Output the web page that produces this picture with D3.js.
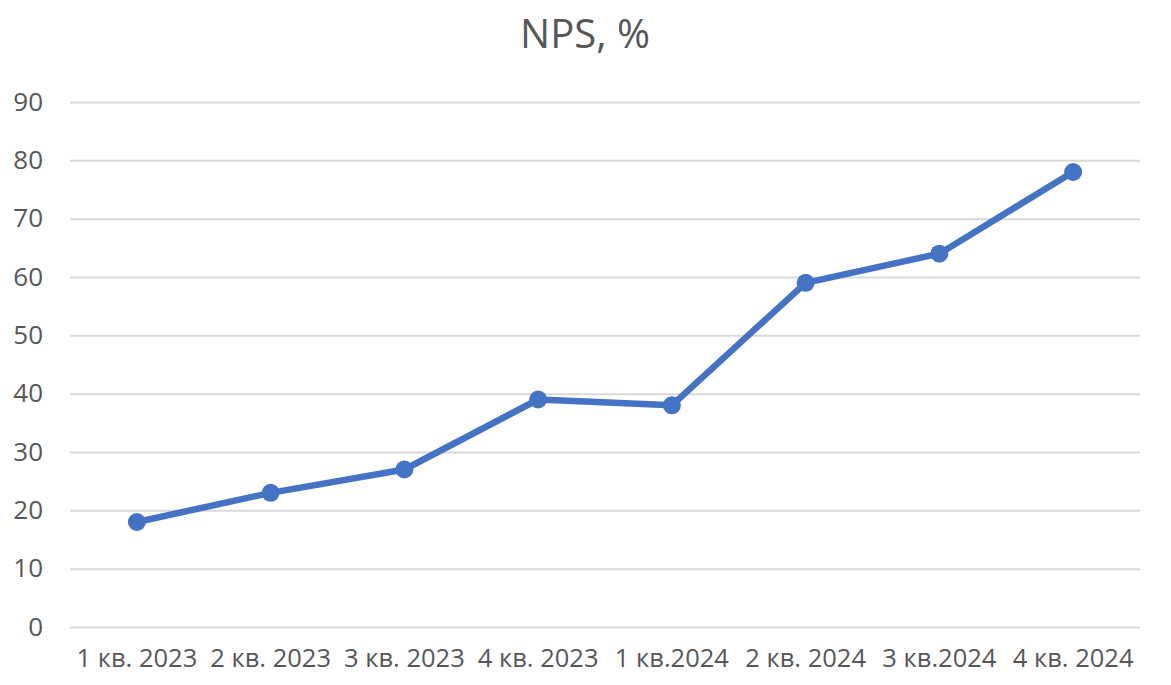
<!DOCTYPE html>
<html>
<head>
<meta charset="utf-8">
<script src="https://cdn.jsdelivr.net/npm/d3@7"></script>
<style>
    body { margin: 0; background: #fff; }
    text { font-family: "Open Sans", sans-serif; fill: #575757; }
</style>
</head>
<body>
<svg id="chart" width="1171" height="685"></svg>
<script>
// 数据
const quarters = ["1 кв. 2023", "2 кв. 2023", "3 кв. 2023", "4 кв. 2023",
                  "1 кв.2024", "2 кв. 2024", "3 кв.2024", "4 кв. 2024"];
const npsValues = [18, 23, 27, 39, 38, 59, 64, 78];
const yTicks = [0, 10, 20, 30, 40, 50, 60, 70, 80, 90];
const chartTitle = "NPS, %";

const lineColor = "#4472C4";
const gridColor = "#d9d9d9";

const margin = { top: 102, right: 31, bottom: 58, left: 70 };
const width = 1171 - margin.left - margin.right;
const height = 685 - margin.top - margin.bottom;

const svg = d3.select("#chart");

// 标题
svg.append("text")
    .attr("x", 585)
    .attr("y", 48)
    .attr("text-anchor", "middle")
    .attr("font-size", 40)
    .text(chartTitle);

const g = svg.append("g")
    .attr("transform", `translate(${margin.left},${margin.top})`);

// 比例尺
const x = d3.scaleBand()
    .domain(quarters)
    .range([0, width]);

const y = d3.scaleLinear()
    .domain([0, 90])
    .range([height, 0]);

// 网格线 + Y轴
const yAxis = g.append("g")
    .call(d3.axisLeft(y).tickValues(yTicks).tickSize(-width).tickPadding(27));
yAxis.select(".domain").remove();
yAxis.selectAll(".tick line")
    .attr("stroke", gridColor)
    .attr("stroke-width", 2);
yAxis.selectAll(".tick text")
    .attr("font-size", 26)
    .attr("fill", "#575757")
    .style("font-family", "'Open Sans', sans-serif");

// X轴
const xAxis = g.append("g")
    .attr("transform", `translate(0,${height})`)
    .call(d3.axisBottom(x).tickSize(0).tickPadding(22));
xAxis.select(".domain").remove();
xAxis.selectAll(".tick text")
    .attr("font-size", 25.5)
    .attr("fill", "#575757")
    .style("font-family", "'Open Sans', sans-serif");

// 折线
const line = d3.line()
    .x((d, i) => x(quarters[i]) + x.bandwidth() / 2)
    .y(d => y(d));

g.append("path")
    .datum(npsValues)
    .attr("fill", "none")
    .attr("stroke", lineColor)
    .attr("stroke-width", 6.5)
    .attr("stroke-linejoin", "round")
    .attr("d", line);

// 标记点
g.selectAll("circle")
    .data(npsValues)
    .enter()
    .append("circle")
    .attr("cx", (d, i) => x(quarters[i]) + x.bandwidth() / 2)
    .attr("cy", d => y(d))
    .attr("r", 9)
    .attr("fill", lineColor);
</script>
</body>
</html>
